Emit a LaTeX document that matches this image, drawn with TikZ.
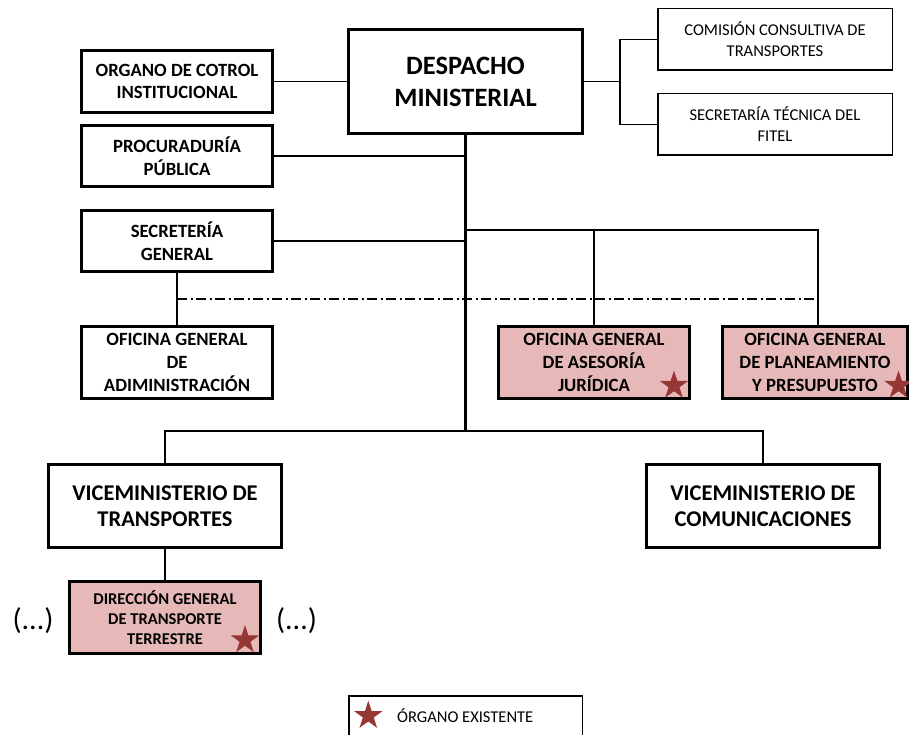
\documentclass[tikz,border=0pt]{standalone}
\usepackage{fontspec}
\setmainfont{Carlito}
\usetikzlibrary{shapes.geometric}
\definecolor{organopink}{HTML}{E6B9B8}
\definecolor{starred}{HTML}{953735}
\tikzset{
  unitbox/.style={draw=black, rectangle, inner sep=0pt, align=center, text=black},
  thickbox/.style={unitbox, line width=2.7pt},
  thinbox/.style={unitbox, line width=1.5pt, font=\fontsize{16.5}{21}\selectfont},
  midfont/.style={font=\bfseries\fontsize{18.7}{22.7}\selectfont},
  pinkbox/.style={thickbox, fill=organopink},
  link/.style={line width=1.3pt},
  trunk/.style={line width=2.4pt},
  dashdotline/.style={line width=1.2pt, dash pattern=on 10pt off 3.5pt on 2pt off 3.5pt},
  existstar/.style={star, star points=5, star point ratio=2.618, fill=starred, draw=none,
                    minimum size=30pt, inner sep=0pt},
  dots/.style={font=\fontsize{30}{34}\selectfont, inner sep=0pt}
}
\begin{document}
\begin{tikzpicture}[x=1pt, y=-1pt]
\useasboundingbox (0,0) rectangle (909,735);

% Upper level
\node[thickbox, font=\bfseries\fontsize{26.5}{32}\selectfont, minimum width=234pt, minimum height=104pt]
  (desp) at (465.5,81.5) {DESPACHO\\MINISTERIAL};
\node[thickbox, midfont, minimum width=191pt, minimum height=62pt]
  (oci) at (177,81.5) {ORGANO DE COTROL\\INSTITUCIONAL};
\node[thickbox, midfont, minimum width=191pt, minimum height=61pt]
  (proc) at (177,156) {PROCURADURÍA\\PÚBLICA};
\node[thickbox, midfont, minimum width=191pt, minimum height=61pt]
  (sg) at (177,241) {SECRETERÍA\\GENERAL};
\node[thinbox, minimum width=234.5pt, minimum height=61.5pt]
  (com) at (775,39.5) {COMISIÓN CONSULTIVA DE\\TRANSPORTES};
\node[thinbox, minimum width=234.5pt, minimum height=61.5pt]
  (fitel) at (775,124.5) {SECRETARÍA TÉCNICA DEL\\FITEL};

% Offices
\node[thickbox, midfont, minimum width=191pt, minimum height=72pt]
  (oga) at (177,362.5) {OFICINA GENERAL\\DE\\ADIMINISTRACIÓN};
\node[pinkbox, midfont, minimum width=191pt, minimum height=72pt]
  (ogaj) at (594,362.5) {OFICINA GENERAL\\DE ASESORÍA\\JURÍDICA};
\node[pinkbox, midfont, minimum width=185pt, minimum height=72pt]
  (ogpp) at (815,362.5) {OFICINA GENERAL\\DE PLANEAMIENTO\\Y PRESUPUESTO};

% Vice-ministries
\node[thickbox, font=\bfseries\fontsize{22.5}{26.5}\selectfont, minimum width=233pt, minimum height=83pt]
  (vmt) at (165,506) {VICEMINISTERIO DE\\TRANSPORTES};
\node[thickbox, font=\bfseries\fontsize{22.5}{26.5}\selectfont, minimum width=233pt, minimum height=83pt]
  (vmc) at (763,506) {VICEMINISTERIO DE\\COMUNICACIONES};
\node[pinkbox, font=\bfseries\fontsize{16.5}{20.3}\selectfont, minimum width=191pt, minimum height=72pt]
  (dgtt) at (165,617.5) {DIRECCIÓN GENERAL\\DE TRANSPORTE\\TERRESTRE};
\node[dots] (dotsl) at (33,620.5) {(...)};
\node[dots] (dotsr) at (296.5,620.5) {(...)};

% Stars marking existing bodies
\node[existstar] (s1) at (674,385.5) {};
\node[existstar] (s2) at (898.5,385.5) {};
\node[existstar] (s3) at (245,640) {};

% Legend
\node[unitbox, line width=1.5pt, minimum width=233.5pt, minimum height=45pt]
  (legend) at (465.5,718.5) {};
\node[existstar] (s4) at (368.3,715.7) {};
\node[anchor=west, inner sep=0pt, font=\fontsize{16.5}{20}\selectfont] (legtext) at (397,716) {ÓRGANO EXISTENTE};

% Junction points
\coordinate (rj) at (620,81.5);
\coordinate (tb) at (465.5,431);
\coordinate (b1) at (465.5,230);
\coordinate (pj) at (818,230);
\coordinate (dl) at (177,299);
\coordinate (dr) at (818,299);

% Connectors
\draw[link] (oci.east) -- (desp.west);
\draw[link] (desp.east) -- (rj);
\draw[link] (com.west) -| (rj) |- (fitel.west);
\draw[trunk] (desp.south) -- (tb);
\draw[link] (proc.east) -- (proc.east -| desp.south);
\draw[link] (sg.east) -- (sg.east -| desp.south);
\draw[link] (b1) -- (pj) -- (pj |- ogpp.north);
\draw[link] (ogaj.north) -- (ogaj.north |- b1);
\draw[link] (sg.south) -- (oga.north);
\draw[dashdotline] (dl) -- (dr);
\draw[link] (vmt.north) |- (tb) -| (vmc.north);
\draw[link] (vmt.south) -- (dgtt.north);
\end{tikzpicture}
\end{document}
